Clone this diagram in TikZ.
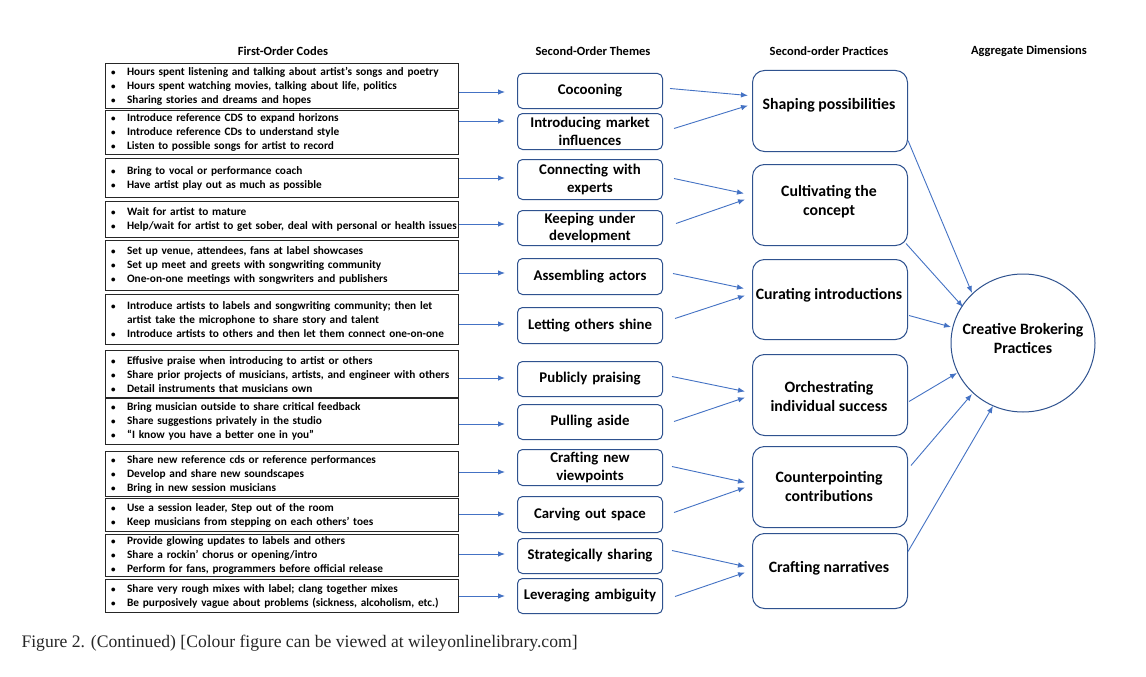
\documentclass[tikz,border=0pt]{standalone}
\usepackage{fontspec}
\setmainfont{Carlito}
\newfontfamily\captionserif{Liberation Serif}
\usetikzlibrary{arrows.meta,calc,shapes.geometric}

\definecolor{arrowblue}{HTML}{4472C4}
\definecolor{edgeblue}{HTML}{2F528F}

\newcommand{\bul}{\makebox[21pt][l]{\hspace*{5pt}\fontsize{9}{9}\selectfont\textbullet}}
\newcommand{\cont}{\hspace*{21pt}}

\tikzset{
  hdr/.style={font=\bfseries\fontsize{12.5}{14}\selectfont},
  codebox/.style={draw=black!85, line width=1.2pt, anchor=north west,
    minimum width=353, text width=352, inner xsep=0.5, inner ysep=1,
    align=left, font=\bfseries\fontsize{11.3}{14}\selectfont},
  theme/.style={draw=edgeblue, line width=1pt, rounded corners=5, anchor=north west,
    minimum width=145, text width=141, inner xsep=2, inner ysep=1, align=center,
    font=\bfseries\fontsize{14.8}{17.5}\selectfont},
  practice/.style={draw=edgeblue, line width=1pt, rounded corners=12, anchor=north west,
    minimum width=155},
  practxt/.style={align=center, font=\bfseries\fontsize{15.8}{19}\selectfont},
  arr/.style={draw=arrowblue, line width=0.9pt, -{Latex[length=7pt,width=5.5pt]}},
}

\begin{document}
\begin{tikzpicture}[x=1pt,y=-1pt]
\useasboundingbox[fill=white] (0,0) rectangle (1146,677);

% column headings
\node[hdr] (h1) at (283,51) {First-Order Codes};
\node[hdr] (h2) at (593,51) {Second-Order Themes};
\node[hdr] (h3) at (829,51) {Second-order Practices};
\node[hdr] (h4) at (1029,51) {Aggregate Dimensions};

% first-order codes
\node[codebox, minimum height=45] (c1) at (105,63) {\bul Hours spent listening and talking about artist’s songs and poetry\\\bul Hours spent watching movies, talking about life, politics\\\bul Sharing stories and dreams and hopes};
\node[codebox, minimum height=44] (c2) at (105,110) {\bul Introduce reference CDS to expand horizons\\\bul Introduce reference CDs to understand style\\\bul Listen to possible songs for artist to record};
\node[codebox, minimum height=39] (c3) at (105,158) {\bul Bring to vocal or performance coach\\\bul Have artist play out as much as possible};
\node[codebox, minimum height=36] (c4) at (105,201) {\bul Wait for artist to mature\\\bul Help/wait for artist to get sober, deal with personal or health issues};
\node[codebox, minimum height=50] (c5) at (105,240) {\bul Set up venue, attendees, fans at label showcases\\\bul Set up meet and greets with songwriting community\\\bul One-on-one meetings with songwriters and publishers};
\node[codebox, minimum height=50] (c6) at (105,294) {\bul Introduce artists to labels and songwriting community; then let\\\cont artist take the microphone to share story and talent\\\bul Introduce artists to others and then let them connect one-on-one};
\node[codebox, minimum height=47] (c7) at (105,350) {\bul Effusive praise when introducing to artist or others\\\bul Share prior projects of musicians, artists, and engineer with others\\\bul Detail instruments that musicians own};
\node[codebox, minimum height=46] (c8) at (105,398) {\bul Bring musician outside to share critical feedback\\\bul Share suggestions privately in the studio\\\bul “I know you have a better one in you”};
\node[codebox, minimum height=45] (c9) at (105,451) {\bul Share new reference cds or reference performances\\\bul Develop and share new soundscapes\\\bul Bring in new session musicians};
\node[codebox, minimum height=33] (c10) at (105,498) {\bul Use a session leader, Step out of the room\\\bul Keep musicians from stepping on each others’ toes};
\node[codebox, minimum height=42] (c11) at (105,534) {\bul Provide glowing updates to labels and others\\\bul Share a rockin’ chorus or opening/intro\\\bul Perform for fans, programmers before official release};
\node[codebox, minimum height=33] (c12) at (105,579) {\bul Share very rough mixes with label; clang together mixes\\\bul Be purposively vague about problems (sickness, alcoholism, etc.)};

% second-order themes
\node[theme, minimum height=35] (t1) at (517,73) {Cocooning};
\node[theme, minimum height=36] (t2) at (517,113) {Introducing market\\influences};
\node[theme, minimum height=40] (t3) at (517,159) {Connecting with\\experts};
\node[theme, minimum height=35] (t4) at (517,210) {Keeping under\\development};
\node[theme, minimum height=36] (t5) at (517,258) {Assembling actors};
\node[theme, minimum height=36] (t6) at (517,307) {Letting others shine};
\node[theme, minimum height=35] (t7) at (517,361) {Publicly praising};
\node[theme, minimum height=35] (t8) at (517,404) {Pulling aside};
\node[theme, minimum height=36] (t9) at (517,449) {Crafting new\\viewpoints};
\node[theme, minimum height=36] (t10) at (517,496) {Carving out space};
\node[theme, minimum height=35] (t11) at (517,538) {Strategically sharing};
\node[theme, minimum height=35] (t12) at (517,578) {Leveraging ambiguity};

% endpoints of the code-to-theme arrows
\coordinate (a1) at (505,92);
\coordinate (a2) at (505,121);
\coordinate (a3) at (505,178);
\coordinate (a4) at (505,224);
\coordinate (a5) at (505,273);
\coordinate (a6) at (505,324);
\coordinate (a7) at (505,378);
\coordinate (a8) at (505,424);
\coordinate (a9) at (505,472);
\coordinate (a10) at (505,514);
\coordinate (a11) at (505,554);
\coordinate (a12) at (505,596);
\foreach \i in {1,...,12} {
  \draw[arr] (c\i.east |- a\i) -- (a\i);
}

% second-order practices
\node[practice, minimum height=81] (p1) at (752,70) {};
\node[practice, minimum height=81] (p2) at (752,164) {};
\node[practice, minimum height=80] (p3) at (752,259) {};
\node[practice, minimum height=81] (p4) at (752,354) {};
\node[practice, minimum height=81] (p5) at (752,446) {};
\node[practice, minimum height=75] (p6) at (752,533) {};
\node[practxt] (l1) at (829,105) {Shaping possibilities};
\node[practxt] (l2) at (829,201.5) {Cultivating the\\concept};
\node[practxt] (l3) at (829,295) {Curating introductions};
\node[practxt] (l4) at (829,396.5) {Orchestrating\\individual success};
\node[practxt] (l5) at (829,486.5) {Counterpointing\\contributions};
\node[practxt] (l6) at (829,568) {Crafting narratives};

% theme-to-practice arrows
\draw[arr] ($(t1.east)+(7,-2.5)$) -- ($(p1.west)+(-4,-15.5)$);
\draw[arr] ($(t2.east)+(11,-3)$) -- ($(p1.west)+(-4,-5.5)$);
\draw[arr] ($(t3.east)+(11,-1)$) -- ($(p2.west)+(-8,-11.5)$);
\draw[arr] ($(t4.east)+(13,-4.5)$) -- ($(p2.west)+(-7,-5.5)$);
\draw[arr] ($(t5.east)+(10,-3)$) -- ($(p3.west)+(-8,-11)$);
\draw[arr] ($(t6.east)+(12,-7)$) -- ($(p3.west)+(-7,-4)$);
\draw[arr] ($(t7.east)+(9,-2.5)$) -- ($(p4.west)+(-7,-3.5)$);
\draw[arr] ($(t8.east)+(11,-0.5)$) -- ($(p4.west)+(-7,2.5)$);
\draw[arr] ($(t9.east)+(9,-1)$) -- ($(p5.west)+(-7,-4.5)$);
\draw[arr] ($(t10.east)+(11,-2)$) -- ($(p5.west)+(-7,0.5)$);
\draw[arr] ($(t11.east)+(9,-5.5)$) -- ($(p6.west)+(-7,-4.5)$);
\draw[arr] ($(t12.east)+(12,0.5)$) -- ($(p6.west)+(-7,1.5)$);

% aggregate dimension
\node[draw=edgeblue, line width=1pt, ellipse, inner sep=0, minimum width=144, minimum height=138] (cb) at (1023,343) {};
\node[practxt] (cbl) at (1023,338.5) {Creative Brokering\\Practices};

% practice-to-dimension arrows
\draw[arr] ($(p1.east)+(0,29.5)$) -- ($(cb.center)+(-51,-50)$);
\draw[arr] ($(p2.east)+(-2,38.5)$) -- ($(cb.center)+(-60,-36)$);
\draw[arr] ($(p3.east)+(1,16)$) -- ($(cb.center)+(-72,-16)$);
\draw[arr] ($(p4.east)+(1,6.5)$) -- ($(cb.center)+(-66,30)$);
\draw[arr] ($(p5.east)+(3,-21.5)$) -- ($(cb.center)+(-51,51)$);
\draw[arr] ($(p6.east)+(0,-19.5)$) -- ($(cb.center)+(-30,63)$);

% caption
\node[anchor=west, text=black!85, font=\captionserif\fontsize{17.6}{20}\selectfont] (cap) at (18,643) {Figure 2. (Continued) [Colour figure can be viewed at wileyonlinelibrary.com]};
\end{tikzpicture}
\end{document}
